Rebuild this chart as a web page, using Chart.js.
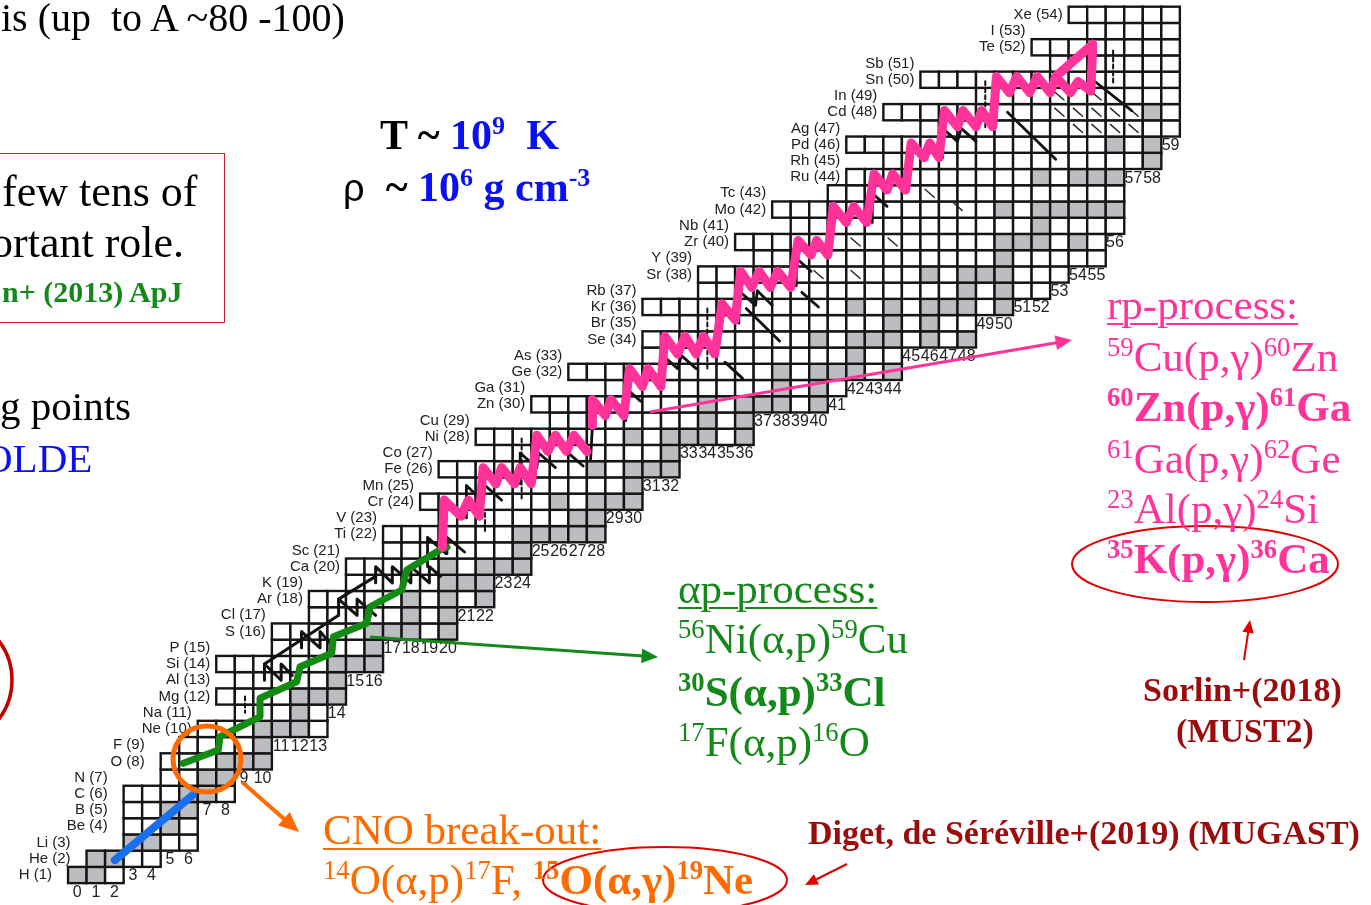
<!DOCTYPE html>
<html>
<head>
<meta charset="utf-8">
<script src="https://cdn.jsdelivr.net/npm/chart.js@4.4.1/dist/chart.umd.min.js"></script>
<style>
  html, body { margin: 0; padding: 0; background: #fff; overflow: hidden; }
  #wrap { position: relative; width: 1371px; height: 905px; }
  #nuc { position: absolute; left: 0; top: 0; }
  .t { position: absolute; white-space: nowrap; line-height: 1; font-family: "Liberation Serif", "Times New Roman", serif; }
  .t sup { font-size: 0.62em; vertical-align: baseline; position: relative; top: -0.58em; }
  .b { font-weight: bold; }
  .u { text-decoration: underline; text-decoration-thickness: 2px; text-underline-offset: 4px; }
  .pink { color: #ff3399; }
  .grn { color: #14891a; }
  .org { color: #ff6a00; }
  .dred { color: #9b0d0d; }
  .blue { color: #0a10f0; }
  #box { position: absolute; left: -10px; top: 153px; width: 233px; height: 168px; border: 1.5px solid #c0282d; }
</style>
</head>
<body>
<div id="wrap">
  <canvas id="nuc" width="1371" height="905"></canvas>

  <div class="t" style="left:1px;top:-2px;font-size:40px;">is (up&nbsp; to A ~80 -100)</div>

  <div id="box"></div>
  <div class="t" style="left:2px;top:170px;font-size:44px;">few tens of</div>
  <div class="t" style="left:-9px;top:221px;font-size:44px;">ortant role.</div>
  <div class="t b grn" style="left:2px;top:277px;font-size:30px;">n+ (2013) ApJ</div>

  <div class="t" style="left:0px;top:386px;font-size:41px;">g points</div>
  <div class="t blue" style="left:-17px;top:438px;font-size:41px;">OLDE</div>

  <div class="t b" style="left:380px;top:114px;font-size:42px;">T ~ <span class="blue">10<sup>9</sup>&nbsp; K</span></div>
  <div class="t" style="left:343px;top:166px;font-size:42px;"><span style="font-family:'Liberation Sans',sans-serif;font-size:38px;">ρ</span>&nbsp; <span class="b">~</span> <span class="b blue">10<sup>6</sup> g cm<sup>-3</sup></span></div>

  <div class="t pink u" style="left:1107px;top:283px;font-size:43px;">rp-process:</div>
  <div class="t pink" style="left:1107px;top:335px;font-size:43px;"><sup>59</sup>Cu(p,γ)<sup>60</sup>Zn</div>
  <div class="t pink b" style="left:1107px;top:385px;font-size:43px;"><sup>60</sup>Zn(p,γ)<sup>61</sup>Ga</div>
  <div class="t pink" style="left:1107px;top:437px;font-size:43px;"><sup>61</sup>Ga(p,γ)<sup>62</sup>Ge</div>
  <div class="t pink" style="left:1107px;top:487px;font-size:43px;"><sup>23</sup>Al(p,γ)<sup>24</sup>Si</div>
  <div class="t pink b" style="left:1107px;top:537px;font-size:43px;"><sup>35</sup>K(p,γ)<sup>36</sup>Ca</div>

  <div class="t b dred" style="left:1143px;top:673px;font-size:34px;">Sorlin+(2018)</div>
  <div class="t b dred" style="left:1176px;top:714px;font-size:34px;">(MUST2)</div>

  <div class="t grn u" style="left:678px;top:567px;font-size:43px;">αp-process:</div>
  <div class="t grn" style="left:678px;top:617px;font-size:43px;"><sup>56</sup>Ni(α,p)<sup>59</sup>Cu</div>
  <div class="t grn b" style="left:678px;top:670px;font-size:43px;"><sup>30</sup>S(α,p)<sup>33</sup>Cl</div>
  <div class="t grn" style="left:678px;top:720px;font-size:43px;"><sup>17</sup>F(α,p)<sup>16</sup>O</div>

  <div class="t org u" style="left:323px;top:808px;font-size:43px;">CNO break-out:</div>
  <div class="t org" style="left:323px;top:858px;font-size:43px;"><sup>14</sup>O(α,p)<sup>17</sup>F,&nbsp;<span class="b"><sup>15</sup>O(α,γ)<sup>19</sup>Ne</span></div>

  <div class="t b dred" style="left:808px;top:816px;font-size:34px;">Diget, de Séréville+(2019) (MUGAST)</div>
</div>

<script>
// rows of the chart: element Z = index + 1
const symbols = ['H','He','Li','Be','B','C','N','O','F','Ne','Na','Mg','Al','Si','P','S','Cl','Ar','K','Ca',
  'Sc','Ti','V','Cr','Mn','Fe','Co','Ni','Cu','Zn','Ga','Ge','As','Se','Br','Kr','Rb','Sr','Y','Zr',
  'Nb','Mo','Tc','Ru','Rh','Pd','Ag','Cd','In','Sn','Sb','Te','I','Xe'];

// first and last neutron number shown for each Z
const minN = [0,1,3,3,3,3,5,5,6,7, 9,8,9,8,11,11,13,13,15,15, 17,17,20,19,21,20,23,22,26,25,
  29,27,31,31,33,31,34,34,37,36, 39,38,41,42,44,42,46,44,49,46, 53,52,55,54];
const maxN = [2,4,6,6,6,8,8,10,10,13, 13,14,14,16,16,20,20,22,22,24, 24,28,28,30,30,32,32,36,36,40,
  41,44,44,48,48,50,52,53,55,55, 56,56,56,56,58,58,59,59,59,59, 59,59,59,59];

// stable isotopes (grey cells), N values per Z
const stableN = [[0,1],[1,2],[3,4],[5],[5,6],[6,7],[7,8],[8,9,10],[10],[10,11,12],
  [12],[12,13,14],[14],[14,15,16],[16],[16,17,18,20],[18,20],[18,20,22],[20,21,22],[20,22,23,24],
  [24],[24,25,26,27,28],[27,28],[26,28,29,30],[30],[28,30,31,32],[32],[30,32,33,34,36],[34,36],[34,36,37,38,40],
  [38,40],[38,40,41,42,44],[42],[40,42,43,44,46,48],[44,46],[42,44,46,47,48,50],[48,50],[46,48,49,50],[50],[50,51,52,54],
  [52],[50,52,53,54,55,56],[],[52,54,55,56],[58],[56,58],[],[58],[],[],
  [],[],[],[]];

// reaction paths, points as [N, Z]
const rpPathLow = [[19.7,21.2],[19.8,24.1],[20.7,23.1],[21.1,24.1],[21.7,23.1],
  [21.9,26.1],[22.6,25.1],[22.9,26.1],[23.6,25.1],[23.9,26.1],[24.5,25.1],
  [24.8,28.1],[25.4,27.1],[25.8,28.1],[26.4,27.1],[26.8,28.1],[27.5,27.1]];
const rpPathHigh = [[27.8,28.7],[27.8,30.3],[28.5,29.3],[28.8,30.3],[29.5,29.3],
  [29.8,32.2],[30.5,31.1],[30.8,32.2],[31.5,31.1],
  [31.7,34.2],[32.4,33.1],[32.8,34.2],[33.4,33.1],[33.8,34.2],[34.4,33.1],
  [34.8,36.2],[35.5,35.2],
  [35.8,38.2],[36.4,37.2],[36.8,38.2],[37.4,37.2],[37.8,38.2],[38.5,37.2],
  [38.9,40.1],[39.6,39.2],[39.9,40.1],[40.5,39.2],
  [40.8,42.2],[41.5,41.2],[41.9,42.2],[42.6,41.2],
  [43.0,44.2],[43.7,43.2],[44.0,44.2],[44.7,43.2],
  [45.0,46.1],[45.7,45.2],[46.0,46.1],[46.5,45.2],
  [46.8,48.1],[47.5,47.1],[47.8,48.1],[48.5,47.1],[48.8,48.1],[49.4,47.1],
  [49.6,50.2],[50.3,49.2],[50.7,50.2],[51.4,49.2],[51.8,50.2],[52.5,49.2],[52.8,50.2],[53.6,49.2],[54.0,49.9],[54.7,49.3],
  [54.8,52.2],[52.8,50.2]];
const apPath = [[5.72,7.88],[7.61,8.70],[7.70,9.52],[9.86,10.75],[9.86,11.89],[11.84,12.91],[12.02,13.83],
  [13.73,14.66],[13.82,15.68],[15.62,16.51],[15.80,17.53],[17.51,18.56],[17.78,19.79],[19.57,21.02],[19.95,21.2]];
const cnoPath = [[2.03,1.92],[6.23,5.93]];

// black (alpha,p)/(p,gamma) branches and beta-decay strokes
const blackAp = [
  [[10.1,13.0],[10.1,14.0],[11.0,13.0],[11.0,14.0],[11.6,13.3]],
  [[12.1,15.0],[12.1,16.0],[13.1,15.0],[13.1,16.0],[13.7,15.2]],
  [[14.1,17.0],[14.1,18.0],[15.1,17.0],[15.1,18.0],[16.1,17.0]],
  [[16.1,19.0],[16.1,20.0],[17.0,19.0],[17.0,20.0],[18.0,19.0],[18.0,20.0],[19.0,19.0],[19.0,20.0],[19.6,19.4]],
  [[10.1,14.0],[14.1,17.0]],
  [[14.1,18.0],[16.1,19.4]]
];
const blackRp = [
  [[18.9,20.0],[18.9,21.8],[19.9,20.8],[19.95,21.8],[20.9,20.9]],
  [[21.0,23.0],[21.0,25.0],[21.9,24.0],[22.0,25.0],[22.9,24.1]],
  [[23.9,25.1],[23.9,27.0],[24.8,26.1],[24.9,27.0],[25.8,26.1]],
  [[27.7,26.6],[27.8,28.7]],
  [[29.6,29.0],[29.6,31.0],[30.4,30.2]],
  [[31.6,31.0],[31.6,33.0],[32.4,32.2],[32.6,33.0],[33.4,32.2]],
  [[35.7,35.0],[35.7,37.0],[36.6,36.1],[36.7,37.0],[37.5,36.1]],
  [[38.8,37.3],[38.8,39.0],[39.6,38.2]],
  [[42.9,41.2],[42.9,43.0],[43.7,42.2]],
  [[46.7,45.2],[46.7,47.0],[47.5,46.2],[47.7,47.0],[48.5,46.2]],
  [[34.95,32.6],[35.9,31.6]],
  [[36.1,35.9],[37.9,33.9]],
  [[39.1,36.9],[40.0,36.0]],
  [[54.8,50.0],[56.9,48.1]],
  [[50.2,48.0],[52.8,45.1]],
  [[26.4,27.1],[27.3,26.2]]
];
const dashedRp = [
  [[23.98,27.9],[23.98,24.1]],
  [[34.0,35.9],[34.0,32.1]],
  [[49.0,49.9],[49.0,46.9]],
  [[55.9,51.8],[55.9,49.8]],
  [[22.0,23.3],[22.0,22.1]],
  [[9.05,12.0],[9.05,11.0]]
];
// short thin beta strokes inside single cells
const betaTicks = [
  [[52.75,48.25],[53.25,47.75]], [[53.75,48.25],[54.25,47.75]], [[54.75,48.25],[55.25,47.75]],
  [[55.75,48.25],[56.25,47.75]], [[56.75,48.25],[57.25,47.75]],
  [[53.75,47.25],[54.25,46.75]], [[54.75,47.25],[55.25,46.75]], [[55.75,47.25],[56.25,46.75]],
  [[56.75,47.25],[57.25,46.75]],
  [[52.75,49.25],[53.25,48.75]], [[54.75,49.25],[55.25,48.75]],
  [[41.75,40.25],[42.25,39.75]], [[43.75,40.25],[44.25,39.75]],
  [[39.75,38.25],[40.25,37.75]], [[41.75,38.25],[42.25,37.75]],
  [[45.75,43.25],[46.25,42.75]], [[47.25,42.45],[47.75,41.95]]
];

const toXY = pts => pts.map(p => ({ x: p[0], y: p[1] }));

function pathSet(pts, color, width, order, dash) {
  return {
    data: toXY(pts),
    showLine: true,
    borderColor: color,
    backgroundColor: color,
    borderWidth: width,
    borderCapStyle: 'round',
    borderJoinStyle: 'round',
    borderDash: dash || [],
    pointRadius: 0,
    tension: 0,
    fill: false,
    order: order
  };
}

/* ===== grid of nuclei + row / column labels ===== */
const cellPlugin = {
  id: 'cells',
  beforeDatasetsDraw(chart) {
    const { ctx } = chart;
    const xs = chart.scales.x, ys = chart.scales.y;
    ctx.save();
    ctx.lineWidth = 2.4;
    ctx.strokeStyle = '#151515';
    for (let i = 0; i < symbols.length; i++) {
      const z = i + 1;
      for (let n = minN[i]; n <= maxN[i]; n++) {
        const x0 = xs.getPixelForValue(n - 0.5), x1 = xs.getPixelForValue(n + 0.5);
        const y0 = ys.getPixelForValue(z + 0.5), y1 = ys.getPixelForValue(z - 0.5);
        ctx.fillStyle = stableN[i].includes(n) ? '#bcbdc1' : '#ffffff';
        ctx.fillRect(x0, y0, x1 - x0, y1 - y0);
        ctx.strokeRect(x0, y0, x1 - x0, y1 - y0);
      }
    }

    // element names, right aligned before the (pair's) first cell
    ctx.fillStyle = '#222';
    ctx.font = '15px "Liberation Sans", Arial, sans-serif';
    ctx.textAlign = 'right';
    ctx.textBaseline = 'middle';
    for (let i = 0; i < symbols.length; i++) {
      const z = i + 1;
      const base = (z % 2 === 1 && i > 0) ? i - 1 : i;
      const gap = z < 10 ? 16 : 6;
      const xr = xs.getPixelForValue(minN[base] - 0.5) - gap;
      ctx.fillText(symbols[i] + ' (' + z + ')', xr, ys.getPixelForValue(z));
    }

    // neutron numbers under the lowest cell of each column
    ctx.font = '16px "Liberation Sans", Arial, sans-serif';
    ctx.textAlign = 'center';
    const topN = Math.max(...maxN);
    for (let n = 0; n <= topN; n++) {
      let zLow = -1;
      for (let i = 0; i < symbols.length; i++) {
        if (n >= minN[i] && n <= maxN[i]) { zLow = i + 1; break; }
      }
      if (zLow < 0) continue;
      ctx.fillText(String(n), xs.getPixelForValue(n), ys.getPixelForValue(zLow - 1) + 1);
    }
    ctx.restore();
  }
};

/* ===== slide decorations: circle, ellipses, arrows ===== */
function arrow(ctx, x0, y0, x1, y1, color, w, head) {
  const a = Math.atan2(y1 - y0, x1 - x0);
  ctx.strokeStyle = color; ctx.fillStyle = color; ctx.lineWidth = w;
  ctx.beginPath();
  ctx.moveTo(x0, y0);
  ctx.lineTo(x1 - Math.cos(a) * head * 0.8, y1 - Math.sin(a) * head * 0.8);
  ctx.stroke();
  ctx.beginPath();
  ctx.moveTo(x1, y1);
  ctx.lineTo(x1 - head * Math.cos(a - 0.42), y1 - head * Math.sin(a - 0.42));
  ctx.lineTo(x1 - head * Math.cos(a + 0.42), y1 - head * Math.sin(a + 0.42));
  ctx.closePath();
  ctx.fill();
}

const decoPlugin = {
  id: 'deco',
  afterDatasetsDraw(chart) {
    const { ctx } = chart;
    ctx.save();
    // orange circle round the CNO break-out
    ctx.strokeStyle = '#ff6a00';
    ctx.lineWidth = 5;
    ctx.beginPath();
    ctx.ellipse(207, 759, 34, 33, 0, 0, Math.PI * 2);
    ctx.stroke();
    arrow(ctx, 242, 782, 299, 832, '#ff6a00', 4, 22);

    // thin arrows from the paths to the captions
    arrow(ctx, 650, 412, 1072, 340, '#ff3399', 3, 18);
    arrow(ctx, 370, 637, 658, 657, '#14891a', 3, 18);

    // red ellipses and small arrows
    ctx.strokeStyle = '#e00000';
    ctx.lineWidth = 2;
    ctx.beginPath();
    ctx.ellipse(1205, 564, 133, 38, 0, 0, Math.PI * 2);
    ctx.stroke();
    ctx.beginPath();
    ctx.ellipse(665, 880, 122, 33, 0, 0, Math.PI * 2);
    ctx.stroke();
    arrow(ctx, 1244, 660, 1250, 620, '#e00000', 2, 14);
    arrow(ctx, 847, 864, 805, 885, '#e00000', 2, 14);

    ctx.strokeStyle = '#c00000';
    ctx.lineWidth = 3.5;
    ctx.beginPath();
    ctx.ellipse(-47, 680, 59, 62, 0, 0, Math.PI * 2);
    ctx.stroke();
    ctx.restore();
  }
};

const datasets = [
  pathSet(rpPathLow, '#ff3399', 9, 1),
  pathSet(rpPathHigh, '#ff3399', 9, 1),
  pathSet(apPath, '#138a14', 7, 2),
  pathSet(cnoPath, '#1a6ff0', 8, 3)
];
blackAp.forEach(seg => datasets.push(pathSet(seg, '#111', 3, 5)));
blackRp.forEach(seg => datasets.push(pathSet(seg, '#111', 2.8, 6)));
dashedRp.forEach(seg => datasets.push(pathSet(seg, '#111', 2, 6, [4, 3])));
betaTicks.forEach(seg => datasets.push(pathSet(seg, '#222', 1.4, 7)));

const chart = new Chart(document.getElementById('nuc'), {
  type: 'scatter',
  data: { datasets },
  options: {
    responsive: false,
    animation: false,
    events: [],
    layout: { padding: 0 },
    plugins: { legend: { display: false }, tooltip: { enabled: false } },
    scales: {
      x: { type: 'linear', min: -4.1716, max: 69.816, display: false },
      y: { type: 'linear', min: -0.848, max: 54.913, display: false }
    }
  },
  plugins: [cellPlugin, decoPlugin]
});
</script>
</body>
</html>
